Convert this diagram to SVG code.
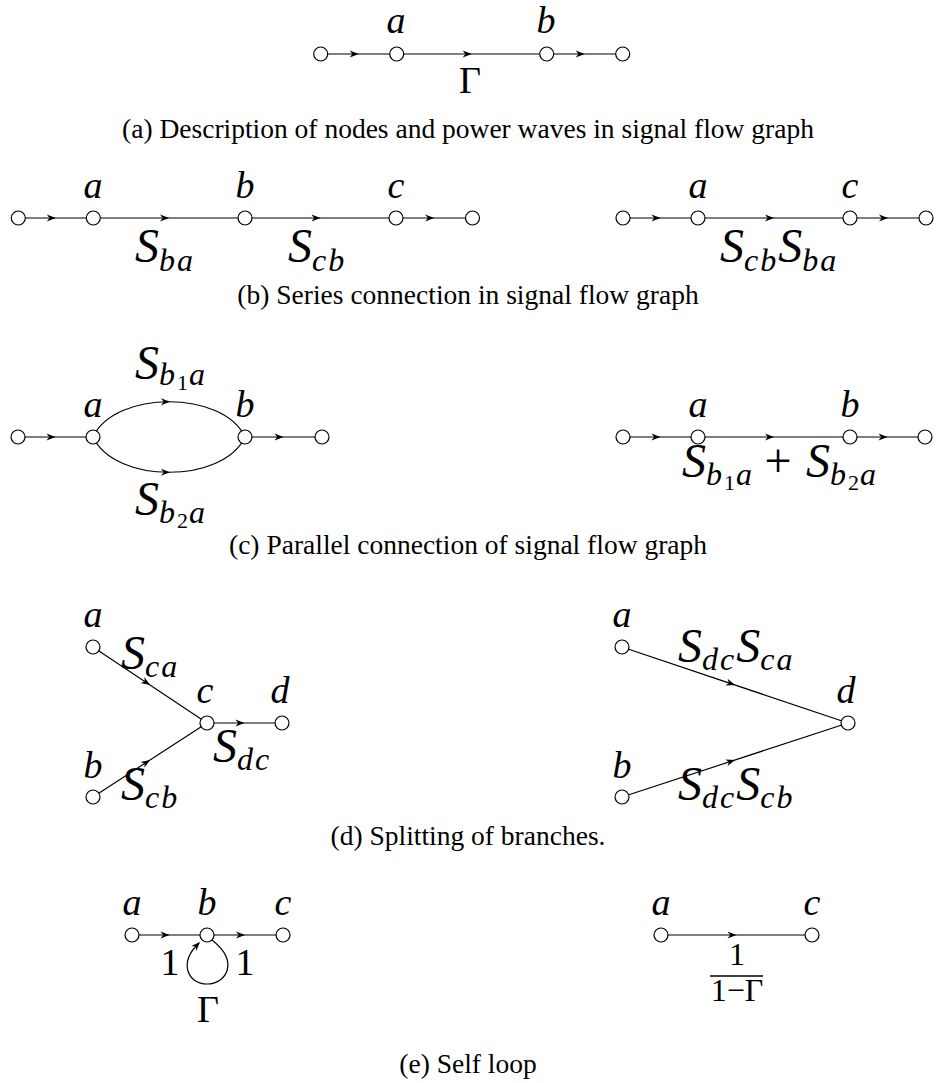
<svg xmlns="http://www.w3.org/2000/svg" xmlns:xlink="http://www.w3.org/1999/xlink" width="937" height="1083" viewBox="0 0 937 1083">
<style>
.n{fill:#fff;stroke:#000;stroke-width:1.2}
.e{fill:none;stroke:#000;stroke-width:1.2}
text{font-family:'Liberation Serif','Times New Roman',Times,'Noto Serif','DejaVu Serif',serif}
.lbl{font-style:italic;font-size:38px;text-anchor:middle}
.up{font-size:38px;text-anchor:middle}
.S{font-style:italic;font-size:48px}
.sub{font-size:32px;letter-spacing:2px}
.ss{font-size:22px;font-style:normal;letter-spacing:1px}
.pl{font-style:normal}
.cap{font-size:27.5px;text-anchor:middle}
.fr{font-size:32px;text-anchor:middle}
</style>
<defs>
<path id="ah" d="M0,0 L-9,-3.5 L-6.3,0 L-9,3.5 Z" fill="#000"/>
</defs>
<rect width="937" height="1083" fill="#fff"/>

<g id="connectors">
  <line class="e" x1="320.7" y1="54" x2="622.7" y2="54"/>
  <use xlink:href="#ah" transform="translate(358.7,54)"/>
  <use xlink:href="#ah" transform="translate(471.7,54)"/>
  <use xlink:href="#ah" transform="translate(584.7,54)"/>
  <line class="e" x1="18.3" y1="218" x2="472.5" y2="218"/>
  <use xlink:href="#ah" transform="translate(55.8,218)"/>
  <use xlink:href="#ah" transform="translate(169,218)"/>
  <use xlink:href="#ah" transform="translate(320.5,218)"/>
  <use xlink:href="#ah" transform="translate(434.2,218)"/>
  <line class="e" x1="623" y1="218" x2="926" y2="218"/>
  <use xlink:href="#ah" transform="translate(660.5,218)"/>
  <use xlink:href="#ah" transform="translate(774,218)"/>
  <use xlink:href="#ah" transform="translate(888,218)"/>
  <line class="e" x1="18" y1="437" x2="93" y2="437"/>
  <line class="e" x1="245" y1="437" x2="322" y2="437"/>
  <path class="e" d="M93,437 C115,390 223,390 245,437"/>
  <path class="e" d="M93,437 C115,484 223,484 245,437"/>
  <use xlink:href="#ah" transform="translate(55.5,437)"/>
  <use xlink:href="#ah" transform="translate(283.5,437)"/>
  <use xlink:href="#ah" transform="translate(170,401.8)"/>
  <use xlink:href="#ah" transform="translate(170,472.2)"/>
  <line class="e" x1="623" y1="437" x2="925" y2="437"/>
  <use xlink:href="#ah" transform="translate(660.5,437)"/>
  <use xlink:href="#ah" transform="translate(774,437)"/>
  <use xlink:href="#ah" transform="translate(887.5,437)"/>
  <line class="e" x1="93" y1="647" x2="207" y2="723"/>
  <line class="e" x1="93" y1="797" x2="207" y2="723"/>
  <line class="e" x1="207" y1="723" x2="282" y2="723"/>
  <use xlink:href="#ah" transform="translate(150,685) rotate(33.7)"/>
  <use xlink:href="#ah" transform="translate(150,760) rotate(-33)"/>
  <use xlink:href="#ah" transform="translate(244.5,723)"/>
  <line class="e" x1="622" y1="647" x2="848" y2="723"/>
  <line class="e" x1="622" y1="797" x2="848" y2="723"/>
  <use xlink:href="#ah" transform="translate(735,685) rotate(18.6)"/>
  <use xlink:href="#ah" transform="translate(735,760) rotate(-18.1)"/>
  <line class="e" x1="132" y1="935" x2="283" y2="935"/>
  <use xlink:href="#ah" transform="translate(169.5,935)"/>
  <use xlink:href="#ah" transform="translate(245,935)"/>
  <path class="e" d="M212,940 C240,962 226,984 207,984 C188,984 178,963 199,943"/>
  <use xlink:href="#ah" transform="translate(200,942) rotate(-46)"/>
  <line class="e" x1="661" y1="935" x2="812" y2="935"/>
  <use xlink:href="#ah" transform="translate(736.5,935)"/>
</g>

<g id="a-in"><circle class="n" cx="320.7" cy="54" r="7"/></g>
<g id="a-a"><circle class="n" cx="396.7" cy="54" r="7"/><text class="lbl" x="396" y="33">a</text></g>
<g id="a-b"><circle class="n" cx="546.7" cy="54" r="7"/><text class="lbl" x="546" y="33">b</text></g>
<g id="a-out"><circle class="n" cx="622.7" cy="54" r="7"/></g>
<text class="up" x="470" y="93">Γ</text>
<text class="cap" x="468" y="138">(a) Description of nodes and power waves in signal flow graph</text>

<g id="b1-in"><circle class="n" cx="18.3" cy="218" r="7"/></g>
<g id="b1-a"><circle class="n" cx="93.3" cy="218" r="7"/><text class="lbl" x="93" y="198">a</text></g>
<g id="b1-b"><circle class="n" cx="245" cy="218" r="7"/><text class="lbl" x="245" y="198">b</text></g>
<g id="b1-c"><circle class="n" cx="396" cy="218" r="7"/><text class="lbl" x="396" y="198">c</text></g>
<g id="b1-out"><circle class="n" cx="472.5" cy="218" r="7"/></g>
<text class="S" x="135" y="262">S<tspan class="sub" dy="9">ba</tspan></text>
<text class="S" x="288" y="262">S<tspan class="sub" dy="9">cb</tspan></text>
<g id="b2-in"><circle class="n" cx="623" cy="218" r="7"/></g>
<g id="b2-a"><circle class="n" cx="698" cy="218" r="7"/><text class="lbl" x="698" y="198">a</text></g>
<g id="b2-c"><circle class="n" cx="850" cy="218" r="7"/><text class="lbl" x="850" y="198">c</text></g>
<g id="b2-out"><circle class="n" cx="926" cy="218" r="7"/></g>
<text class="S" x="720" y="262">S<tspan class="sub" dy="9">cb</tspan><tspan dy="-9">S</tspan><tspan class="sub" dy="9">ba</tspan></text>
<text class="cap" x="468" y="304">(b) Series connection in signal flow graph</text>

<g id="c1-in"><circle class="n" cx="18" cy="437" r="7"/></g>
<g id="c1-a"><circle class="n" cx="93" cy="437" r="7"/><text class="lbl" x="93" y="417">a</text></g>
<g id="c1-b"><circle class="n" cx="245" cy="437" r="7"/><text class="lbl" x="245" y="417">b</text></g>
<g id="c1-out"><circle class="n" cx="322" cy="437" r="7"/></g>
<text class="S" x="135" y="379">S<tspan class="sub" dy="6">b</tspan><tspan class="ss" dy="5">1</tspan><tspan class="sub" dy="-5">a</tspan></text>
<text class="S" x="135" y="515">S<tspan class="sub" dy="8">b</tspan><tspan class="ss" dy="5">2</tspan><tspan class="sub" dy="-5">a</tspan></text>
<g id="c2-in"><circle class="n" cx="623" cy="437" r="7"/></g>
<g id="c2-a"><circle class="n" cx="698" cy="437" r="7"/><text class="lbl" x="698" y="417">a</text></g>
<g id="c2-b"><circle class="n" cx="850" cy="437" r="7"/><text class="lbl" x="850" y="417">b</text></g>
<g id="c2-out"><circle class="n" cx="925" cy="437" r="7"/></g>
<text class="S" x="682" y="477">S<tspan class="sub" dy="8">b</tspan><tspan class="ss" dy="5">1</tspan><tspan class="sub" dy="-5">a</tspan></text>
<text class="S pl" x="778" y="477" text-anchor="middle">+</text>
<text class="S" x="806" y="477">S<tspan class="sub" dy="8">b</tspan><tspan class="ss" dy="5">2</tspan><tspan class="sub" dy="-5">a</tspan></text>
<text class="cap" x="468" y="554">(c) Parallel connection of signal flow graph</text>

<g id="d1-a"><circle class="n" cx="93" cy="647" r="7"/><text class="lbl" x="93" y="627">a</text></g>
<g id="d1-b"><circle class="n" cx="93" cy="797" r="7"/><text class="lbl" x="93" y="778">b</text></g>
<g id="d1-c"><circle class="n" cx="207" cy="723" r="7"/><text class="lbl" x="205" y="703">c</text></g>
<g id="d1-d"><circle class="n" cx="282" cy="723" r="7"/><text class="lbl" x="280" y="703">d</text></g>
<text class="S" x="121" y="669">S<tspan class="sub" dy="8">ca</tspan></text>
<text class="S" x="213" y="762">S<tspan class="sub" dy="8">dc</tspan></text>
<text class="S" x="121" y="800">S<tspan class="sub" dy="8">cb</tspan></text>
<g id="d2-a"><circle class="n" cx="622" cy="647" r="7"/><text class="lbl" x="622" y="627">a</text></g>
<g id="d2-b"><circle class="n" cx="622" cy="797" r="7"/><text class="lbl" x="622" y="778">b</text></g>
<g id="d2-d"><circle class="n" cx="848" cy="723" r="7"/><text class="lbl" x="846" y="703">d</text></g>
<text class="S" x="678" y="662">S<tspan class="sub" dy="8">dc</tspan><tspan dy="-8">S</tspan><tspan class="sub" dy="8">ca</tspan></text>
<text class="S" x="678" y="800">S<tspan class="sub" dy="8">dc</tspan><tspan dy="-8">S</tspan><tspan class="sub" dy="8">cb</tspan></text>
<text class="cap" x="468" y="845">(d) Splitting of branches.</text>

<g id="e1-a"><circle class="n" cx="132" cy="935" r="7"/><text class="lbl" x="132" y="915">a</text></g>
<g id="e1-b"><circle class="n" cx="207" cy="935" r="7"/><text class="lbl" x="207" y="915">b</text></g>
<g id="e1-c"><circle class="n" cx="283" cy="935" r="7"/><text class="lbl" x="283" y="915">c</text></g>
<text class="up" x="170" y="975">1</text>
<text class="up" x="245" y="975">1</text>
<text class="up" x="208" y="1022">Γ</text>
<g id="e2-a"><circle class="n" cx="661" cy="935" r="7"/><text class="lbl" x="661" y="915">a</text></g>
<g id="e2-c"><circle class="n" cx="812" cy="935" r="7"/><text class="lbl" x="812" y="915">c</text></g>
<text class="fr" x="737" y="965">1</text>
<line x1="710" y1="976" x2="763" y2="976" stroke="#000" stroke-width="1.6"/>
<text class="fr" x="737" y="1001">1−Γ</text>
<text class="cap" x="468" y="1073">(e) Self loop</text>
</svg>
